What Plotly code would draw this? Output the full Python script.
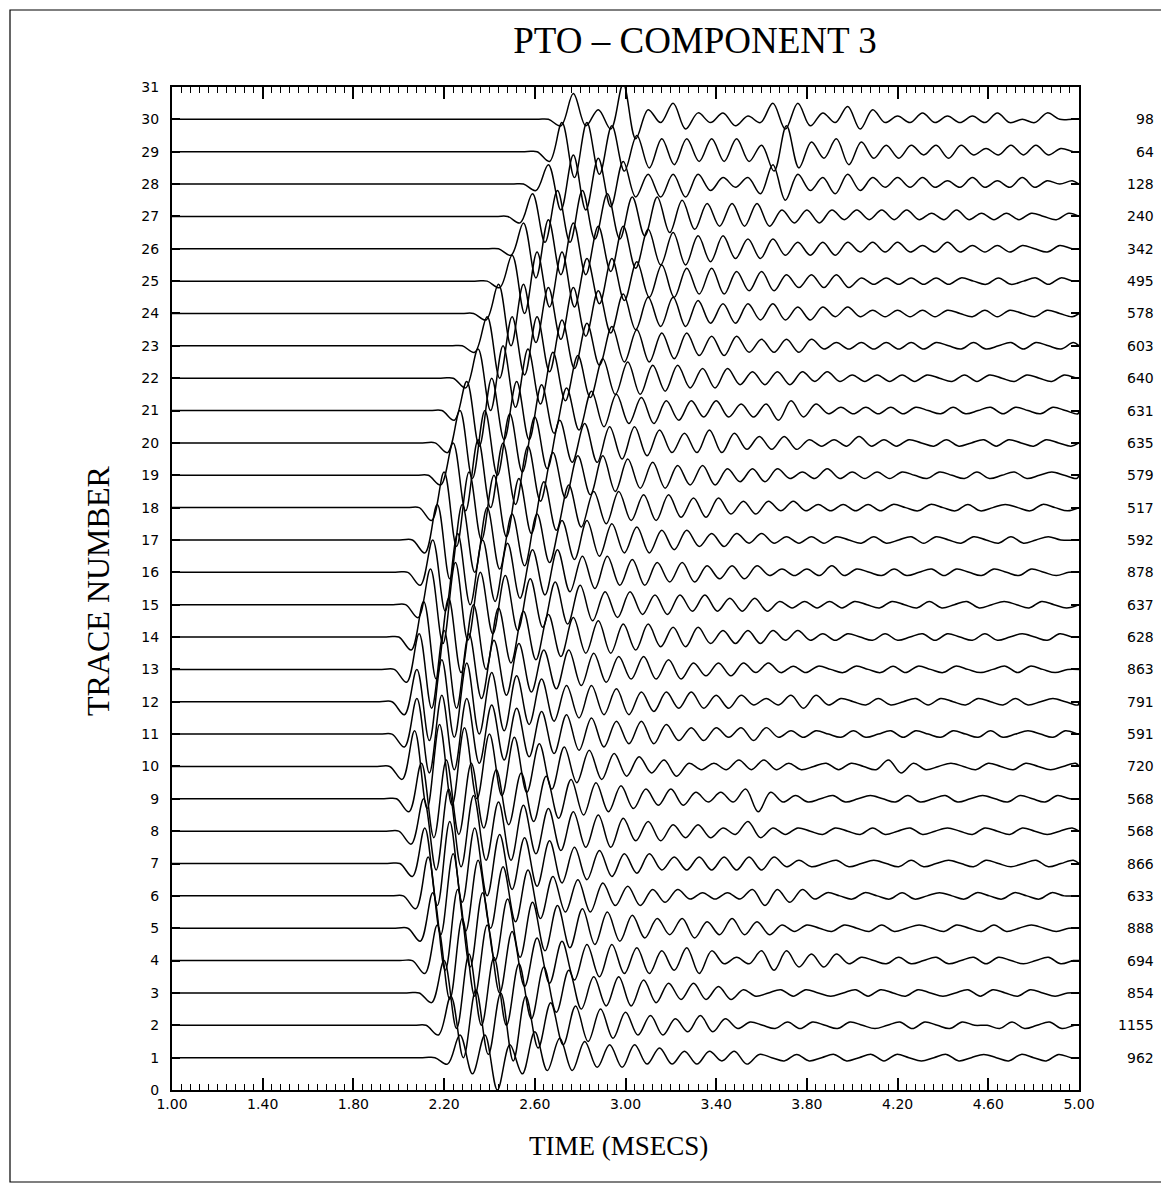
import numpy as np
import plotly.graph_objects as go

# --- data ----------------------------------------------------------------
trace_numbers = list(range(1, 31))

# time (ms) where each trace leaves its baseline
onset_ms = [2.16, 2.12, 2.09, 2.06, 2.04, 2.02, 2.005, 2.00, 1.99, 1.96,
            1.97, 1.97, 1.98, 2.00, 2.03, 2.04, 2.06, 2.09, 2.13, 2.16,
            2.19, 2.24, 2.28, 2.33, 2.39, 2.44, 2.48, 2.55, 2.61, 2.66]

# scale factor printed at the right of each trace
scale_labels = [962, 1155, 854, 694, 888, 633, 866, 568, 568, 720,
                591, 791, 863, 628, 637, 878, 592, 517, 579, 635,
                631, 640, 603, 578, 495, 342, 240, 128, 64, 98]

# samples are successive peaks/troughs, one every half period
HALF_PERIOD_MS = 0.055

# peak / trough heights, in tenths of the trace spacing
trace_01 = [-2, 7, -5, 7, -10, 4, -5, 8, -4, 6, -4, 5, -3, 4, -3, 4, -2, 3, -2, 2, -2, 2, -1, 2,
            -2, 1, 0, -1, 1, -1, 0, 1, -1, 0, 1, -1, 1, 0, -1, 0, 1, -1, 0, 1, 0, -1, 1, 0, -1, 1, 0]
trace_02 = [-3, 9, -10, 11, -9, 10, -11, 9, -7, 7, -6, 6, -5, 5, -4, 4, -3, 3, -3, 2, -2, 3, -2, 2,
            -1, 1, 0, -1, 1, -1, 1, 0, -1, 1, 0, -1, 0, 1, -1, 1, 0, -1, 1, 0, 0, -1, 1, -1, 0, 1, -1, 0]
trace_03 = [-3, 10, -11, 12, -10, 11, -10, 9, -8, 8, -6, 7, -5, 5, -4, 5, -4, 4, -3, 3, -2, 3, -2, 2,
            -2, 1, -1, 0, 1, -1, 1, 0, -1, 0, 1, -1, 1, 0, -1, 1, 0, -1, 0, 1, -1, 1, 0, -1, 1, 0, -1, 0]
trace_04 = [-4, 11, -12, 13, -11, 11, -10, 9, -8, 7, -7, 6, -6, 5, -5, 5, -4, 4, -4, 3, -3, 4, -4, 3,
            -1, 1, -1, 3, -3, 3, -2, 2, -2, 2, -1, 1, 0, -1, 1, -1, 0, 1, -1, 0, 1, -1, 1, 0, -1, 0, 1, -1, 0]
trace_05 = [-4, 11, -13, 12, -12, 11, -10, 9, -9, 8, -7, 7, -6, 6, -5, 5, -4, 4, -3, 3, -2, 3, -3, 2,
            -2, 3, -2, 2, -2, 1, -1, 1, 0, -1, 1, 0, -1, 1, -1, 0, 1, 0, -1, 1, 0, -1, 1, -1, 0, 1, 0, -1, 0]
trace_06 = [-4, 12, -12, 13, -11, 11, -10, 9, -8, 8, -7, 6, -5, 5, -5, 4, -3, 3, -3, 2, -2, 2, -1, 1,
            -1, 1, -1, 2, -3, 2, -2, 2, -1, 1, 0, -1, 1, 0, -1, 1, -1, 0, 1, 0, -1, 1, 0, -1, 1, 0, -1, 1, 0, 0]
trace_07 = [-4, 11, -13, 13, -12, 11, -10, 9, -8, 8, -7, 7, -6, 5, -5, 4, -4, 3, -3, 3, -2, 2, -2, 2,
            -2, 2, -2, 2, -2, 2, -1, 1, -1, 0, 1, -1, 0, 1, 0, -1, 1, -1, 0, 1, 0, -1, 1, 0, -1, 0, 1, -1, 0, 1]
trace_08 = [-4, 10, -12, 13, -11, 11, -9, 9, -9, 8, -7, 7, -6, 6, -5, 5, -5, 4, -3, 3, -3, 2, -2, 2,
            -2, 1, -1, 3, -2, 1, -1, 1, 0, -1, 1, 0, -1, 1, -1, 0, 1, -1, 0, 1, 0, -1, 1, 0, -1, 1, 0, -1, 0, 1]
trace_09 = [-4, 11, -12, 12, -11, 11, -9, 9, -8, 8, -7, 7, -6, 6, -5, 5, -4, 4, -3, 3, -2, 3, -2, 2,
            -1, 2, -1, 3, -4, 2, -1, 1, -1, 0, 1, -1, 0, 1, 0, -1, 1, -1, 0, 1, -1, 0, 1, 0, -1, 1, 0, -1, 1, 0]
trace_10 = [-4, 11, -13, 13, -12, 12, -10, 10, -9, 9, -8, 7, -7, 6, -5, 5, -4, 4, -3, 3, -2, 2, -3, 1,
            -1, 1, -1, 2, -1, 2, -1, 1, -1, 0, 1, -1, 1, 0, -1, 2, -2, 1, -1, 0, 1, 0, -1, 1, 0, -1, 1, 0, -1, 0, 1]
trace_11 = [-4, 11, -12, 12, -11, 11, -9, 9, -8, 8, -7, 7, -6, 6, -5, 5, -4, 4, -3, 4, -3, 3, -2, 2,
            -2, 2, -1, 2, -2, 2, -1, 1, -1, 1, 0, -1, 1, -1, 0, 1, -1, 1, 0, -1, 1, 0, -1, 1, -1, 0, 1, 0, -1, 1, 0]
trace_12 = [-4, 10, -12, 13, -11, 12, -10, 9, -9, 8, -7, 7, -6, 5, -5, 5, -4, 4, -4, 3, -3, 3, -2, 3,
            -2, 2, -2, 2, -1, 1, -1, 2, -2, 2, -1, 1, 0, -1, 1, -1, 0, 1, -1, 1, 0, -1, 1, 0, -1, 1, -1, 0, 1, 0, -1]
trace_13 = [-4, 11, -12, 12, -12, 11, -9, 9, -8, 8, -7, 6, -6, 6, -5, 5, -4, 4, -3, 4, -3, 3, -3, 2,
            -2, 2, -2, 2, -1, 2, -1, 1, -1, 1, 0, -1, 1, 0, -1, 1, -1, 1, 0, -1, 1, 0, -1, 0, 1, -1, 1, 0, -1, 0]
trace_14 = [-4, 11, -13, 12, -11, 10, -10, 9, -8, 8, -7, 7, -6, 6, -5, 5, -5, 4, -4, 4, -3, 3, -3, 3,
            -2, 2, -2, 2, -2, 2, -1, 2, -1, 1, -1, 1, 0, -1, 1, -1, 0, 1, -1, 1, 0, -1, 1, -1, 0, 1, 0, -1, 1, 0]
trace_15 = [-4, 11, -12, 13, -11, 10, -9, 9, -8, 8, -7, 7, -6, 6, -5, 4, -4, 4, -3, 3, -3, 3, -2, 3,
            -2, 2, -2, 2, -2, 1, -1, 1, -1, 1, -1, 1, 0, -1, 1, 0, -1, 1, -1, 0, 1, -1, 0, 1, 0, -1, 1, 0, -1, 0]
trace_16 = [-4, 10, -12, 12, -10, 10, -9, 9, -8, 7, -7, 7, -6, 5, -5, 5, -4, 4, -4, 3, -3, 3, -3, 2,
            -2, 2, -2, 2, -1, 1, -1, 1, -1, 2, -1, 1, 0, -1, 1, -1, 0, 1, -1, 1, 0, -1, 1, 0, -1, 1, 0, -1, 0]
trace_17 = [-4, 11, -12, 11, -10, 10, -9, 8, -8, 8, -7, 6, -6, 6, -5, 5, -4, 4, -4, 3, -3, 3, -2, 2,
            -2, 2, -1, 2, -1, 1, -1, 1, -1, 1, 0, -1, 1, -1, 0, 1, -1, 1, 0, -1, 1, 0, -1, 1, -1, 0, 1, 0]
trace_18 = [-4, 11, -12, 11, -10, 10, -9, 9, -8, 8, -7, 7, -6, 5, -5, 5, -4, 4, -4, 4, -3, 3, -3, 3,
            -2, 2, -2, 2, -1, 2, -1, 1, -1, 1, -1, 1, -1, 1, 0, -1, 1, 0, -1, 1, -1, 0, 1, 0, -1, 1, 0, -1]
trace_19 = [-3, 10, -11, 11, -10, 10, -9, 9, -8, 7, -7, 6, -6, 6, -5, 5, -4, 4, -4, 3, -3, 3, -3, 2,
            -2, 2, -2, 2, -1, 1, -1, 2, -1, 1, -1, 1, -1, 1, 0, -1, 1, 0, -1, 1, -1, 0, 1, -1, 0, 1, 0, -1]
trace_20 = [-3, 10, -11, 10, -10, 9, -9, 8, -8, 7, -6, 6, -6, 5, -5, 5, -4, 4, -3, 3, -3, 4, -3, 3,
            -2, 2, -2, 2, -2, 1, -1, 1, -1, 2, -1, 1, -1, 1, 0, -1, 1, -1, 0, 1, -1, 1, 0, -1, 1, 0, -1]
trace_21 = [-3, 9, -11, 10, -9, 9, -9, 8, -7, 7, -6, 6, -5, 5, -4, 4, -4, 3, -3, 3, -2, 3, -2, 2,
            -2, 2, -3, 3, -2, 2, -1, 1, -1, 1, -1, 1, -1, 1, 0, -1, 1, -1, 0, 1, -1, 1, 0, -1, 1, 0, -1]
trace_22 = [-3, 9, -10, 10, -9, 9, -8, 8, -7, 7, -6, 6, -5, 5, -5, 4, -4, 4, -3, 3, -3, 3, -2, 2,
            -2, 2, -2, 2, -1, 2, -1, 1, -1, 1, -1, 1, -1, 1, 0, -1, 1, -1, 1, 0, -1, 1, 0, -1, 1, 0]
trace_23 = [-2, 9, -10, 9, -9, 9, -8, 8, -7, 7, -6, 6, -5, 5, -5, 4, -4, 4, -3, 3, -3, 3, -2, 2,
            -2, 2, -2, 2, -1, 1, -1, 1, -1, 1, -1, 1, -1, 1, 0, -1, 1, -1, 0, 1, -1, 1, 0, -1, 1]
trace_24 = [-2, 9, -10, 9, -9, 8, -8, 8, -7, 7, -6, 6, -5, 5, -4, 5, -4, 4, -3, 3, -3, 3, -2, 3,
            -2, 2, -2, 2, -1, 2, -1, 1, -1, 1, -1, 1, -1, 1, 0, -1, 1, -1, 1, 0, -1, 1, 0, -1]
trace_25 = [-2, 8, -10, 9, -8, 9, -8, 7, -7, 7, -6, 6, -5, 5, -5, 4, -4, 4, -4, 3, -3, 3, -3, 2,
            -2, 2, -2, 2, -2, 1, -1, 1, -1, 1, -1, 1, -1, 1, 0, -1, 1, -1, 0, 1, -1, 1, 0]
trace_26 = [-2, 8, -9, 9, -8, 8, -8, 7, -7, 7, -6, 6, -5, 5, -5, 4, -4, 4, -3, 3, -3, 3, -2, 2,
            -2, 2, -2, 2, -1, 2, -1, 2, -1, 1, -1, 2, -1, 1, -1, 1, -1, 1, 0, -1, 1, 0]
trace_27 = [-2, 7, -8, 8, -8, 8, -7, 7, -7, 6, -6, 6, -5, 5, -4, 4, -3, 4, -3, 4, -3, 2, -2, 2,
            -2, 2, -1, 2, -1, 2, -1, 2, -1, 1, -1, 2, -1, 1, -1, 1, -1, 1, 0, -1, 1]
trace_28 = [-2, 6, -8, 9, -8, 8, -7, 7, -4, 3, -4, 3, -4, 3, -2, 2, -1, 2, -3, 6, -5, 3, -2, 2,
            -3, 3, -2, 2, -1, 2, -1, 2, -1, 1, -1, 2, -1, 1, -1, 2, -1, 1, 0, 1]
trace_29 = [-3, 9, -8, 9, -7, 8, -6, 5, -5, 4, -4, 4, -3, 4, -3, 4, -3, 2, -6, 8, -5, 3, -2, 4,
            -4, 3, -2, 2, -2, 2, -1, 2, -2, 2, -1, 1, -1, 2, -1, 2, -1, 1, 0]
trace_30 = [-2, 8, -2, 3, -3, 11, -6, 3, -1, 5, -3, 2, -1, 2, -2, 1, -1, 5, -3, 5, -2, 2, -1, 4,
            -3, 3, -1, 1, -1, 2, -1, 1, -1, 1, -1, 2, -1, 0, -1, 2, 0, 0]

trace_peaks = [trace_01, trace_02, trace_03, trace_04, trace_05, trace_06, trace_07, trace_08,
               trace_09, trace_10, trace_11, trace_12, trace_13, trace_14, trace_15, trace_16,
               trace_17, trace_18, trace_19, trace_20, trace_21, trace_22, trace_23, trace_24,
               trace_25, trace_26, trace_27, trace_28, trace_29, trace_30]

T_START, T_END = 1.0, 5.0

# page pixel positions (the page body adds an 8 px margin)
PAGE_OFF = 8
W, H = 1169 - PAGE_OFF, 1187 - PAGE_OFF
PLOT_L, PLOT_R, PLOT_T, PLOT_B = 172, 1079, 87, 1090


def px_to_paper(px, py):
    return ((px - PLOT_L) / (PLOT_R - PLOT_L),
            (PLOT_B - py) / (PLOT_B - PLOT_T))


fig = go.Figure()

for num, t0, peaks in zip(trace_numbers, onset_ms, trace_peaks):
    k = np.arange(1, len(peaks) + 1)
    t = np.concatenate([[T_START, t0 - HALF_PERIOD_MS, t0], t0 + k * HALF_PERIOD_MS])
    a = np.concatenate([[0, 0, 0], np.array(peaks) / 10.0])
    keep = t <= T_END
    t = np.append(t[keep], T_END)
    a = np.append(a[keep], 0)
    fig.add_trace(go.Scatter(
        x=t, y=num + a, mode='lines',
        line=dict(color='black', width=1.5, shape='spline', smoothing=1.0),
        showlegend=False, hoverinfo='skip'))

# scale numbers on the right
for num, lab in zip(trace_numbers, scale_labels):
    fig.add_annotation(x=px_to_paper(1156, 0)[0], xref='paper', y=num, yref='y',
                       text=str(lab), showarrow=False, xanchor='right',
                       font=dict(family='DejaVu Sans', size=14, color='black'))

x_title = px_to_paper(618, 1163)
fig.add_annotation(x=x_title[0], y=x_title[1], xref='paper', yref='paper',
                   text='TIME (MSECS)', showarrow=False,
                   font=dict(family='Liberation Serif', size=27, color='black'))
y_title = px_to_paper(78, 591)
fig.add_annotation(x=y_title[0], y=y_title[1], xref='paper', yref='paper',
                   text='TRACE NUMBER', showarrow=False, textangle=-90,
                   font=dict(family='Liberation Serif', size=32, color='black'))

# outer border of the sheet
bx0, by0 = px_to_paper(10, 1182)
bx1, by1 = px_to_paper(1165, 10)
fig.add_shape(type='rect', xref='paper', yref='paper', x0=bx0, y0=by0, x1=bx1, y1=by1,
              line=dict(color='black', width=1.2))

fig.update_layout(
    width=W, height=H,
    margin=dict(l=PLOT_L - PAGE_OFF, r=W - (PLOT_R - PAGE_OFF),
                t=PLOT_T - PAGE_OFF, b=H - (PLOT_B - PAGE_OFF), autoexpand=False),
    paper_bgcolor='white', plot_bgcolor='white',
    title=dict(text='PTO – COMPONENT 3', x=(695 - PAGE_OFF) / W, y=1 - (40 - PAGE_OFF) / H,
               xanchor='center', yanchor='middle', xref='container', yref='container',
               font=dict(family='Liberation Serif', size=37, color='black')),
    xaxis=dict(range=[T_START, T_END], tick0=1.0, dtick=0.4, tickformat='.2f',
               ticks='inside', ticklen=12, tickwidth=1.5, tickcolor='black',
               minor=dict(dtick=0.04, ticks='inside', ticklen=6, tickwidth=1.2, tickcolor='black'),
               showline=True, linecolor='black', linewidth=2, mirror='allticks',
               showgrid=False, zeroline=False,
               tickfont=dict(family='DejaVu Sans', size=14, color='black')),
    yaxis=dict(range=[0, 31], tick0=0, dtick=1,
               ticks='inside', ticklen=8, tickwidth=2, tickcolor='black',
               showline=True, linecolor='black', linewidth=2, mirror='allticks',
               showgrid=False, zeroline=False, ticklabelstandoff=8,
               tickfont=dict(family='DejaVu Sans', size=14, color='black')),
)

fig.write_html("out.html")
